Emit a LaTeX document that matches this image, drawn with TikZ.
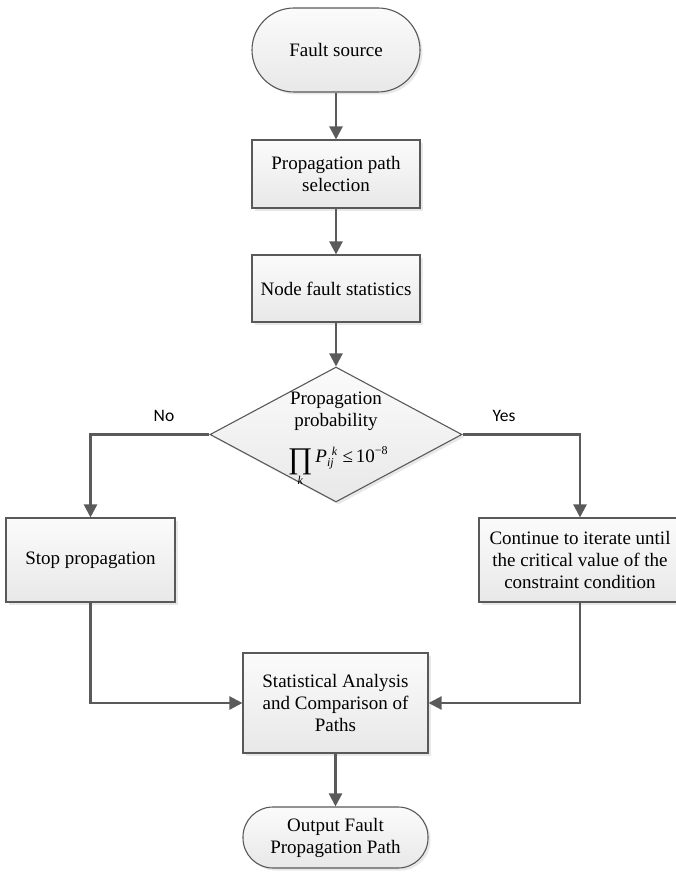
\documentclass[tikz,border=0pt]{standalone}
\usepackage{fontspec}
\setmainfont{Liberation Serif}
\newfontfamily\labelfont{Carlito}
\usetikzlibrary{arrows.meta,shapes.geometric,shadows}
\definecolor{edgegray}{HTML}{595959}
\definecolor{linegray}{HTML}{5A5A5A}
\definecolor{filltop}{HTML}{FBFBFB}
\definecolor{fillbot}{HTML}{E8E8E8}
% pieces of the probability condition, set in the serif text face
\newcommand{\bigprodsym}{\raisebox{-6pt}{\fontsize{30}{30}\selectfont ∏}}
\newcommand{\smallit}[1]{\hbox{\fontsize{12}{12}\selectfont\itshape #1}}
\newcommand{\smallup}[1]{\hbox{\fontsize{12}{12}\selectfont #1}}
\begin{document}
\begin{tikzpicture}[x=1pt,y=-1pt,
  shape base/.style={draw=edgegray, line width=1.1pt, top color=filltop, bottom color=fillbot,
    drop shadow={opacity=0.18, shadow xshift=2.5pt, shadow yshift=-2.5pt},
    align=center, inner sep=2pt, font=\fontsize{19}{22}\selectfont},
  procbox/.style={shape base, rectangle},
  termbox/.style={shape base, rectangle},
  decbox/.style={shape base, diamond, inner sep=0pt},
  flow/.style={draw=linegray, line width=2.3pt, -{Triangle[length=13pt,width=13pt]}},
  answer/.style={font=\labelfont\fontsize{17.5}{20}\selectfont, inner sep=0pt},
  diatext/.style={inner sep=0pt, font=\fontsize{19}{22}\selectfont}]
\useasboundingbox (0,0) rectangle (675,872);

% process nodes
\node[termbox, rounded corners=42pt, minimum width=168pt, minimum height=84pt] (src) at (336,50) {Fault source};
\node[procbox, minimum width=168pt, minimum height=68pt] (sel) at (336,174) {Propagation path\\selection};
\node[procbox, minimum width=168pt, minimum height=67pt] (stat) at (336,288.5) {Node fault statistics};
\node[decbox, minimum width=252pt, minimum height=135pt] (dia) at (336,434.5) {};
\node[diatext] (dialine1) at (336,400) {Propagation};
\node[diatext] (dialine2) at (336,422) {probability};
\node[diatext, anchor=base] (cond) at (338,462)
  {$\mathop{\bigprodsym}\limits_{\smallit{k}}
    \hbox{\itshape P}_{\smallit{ij}}^{\,\,\smallit{k}}\;\hbox{≤}\,\hbox{10}^{\smallup{−8}}$};
\node[procbox, minimum width=169pt, minimum height=84pt] (stop) at (90.5,560) {Stop propagation};
\node[procbox, minimum width=202pt, minimum height=84pt] (cont) at (580,560)
  {Continue to iterate until\\the critical value of the\\constraint condition};
\node[procbox, minimum width=185pt, minimum height=100pt] (ana) at (335.5,703)
  {Statistical Analysis\\and Comparison of\\Paths};
\node[termbox, rounded corners=30pt, minimum width=185pt, minimum height=61pt] (out) at (335.5,837.5)
  {Output Fault\\Propagation Path};

% branch labels
\node[answer] (no) at (164,416) {No};
\node[answer] (yes) at (504,416) {Yes};

% connectors
\draw[flow] (src) -- (sel);
\draw[flow] (sel) -- (stat);
\draw[flow] (stat) -- (dia.north);
\draw[flow] (dia.west) -| (stop.north);
\draw[flow] (dia.east) -| (cont.north);
\draw[flow] (stop.south) |- (ana.west);
\draw[flow] (cont.south) |- (ana.east);
\draw[flow] (ana) -- (out);
\end{tikzpicture}
\end{document}
